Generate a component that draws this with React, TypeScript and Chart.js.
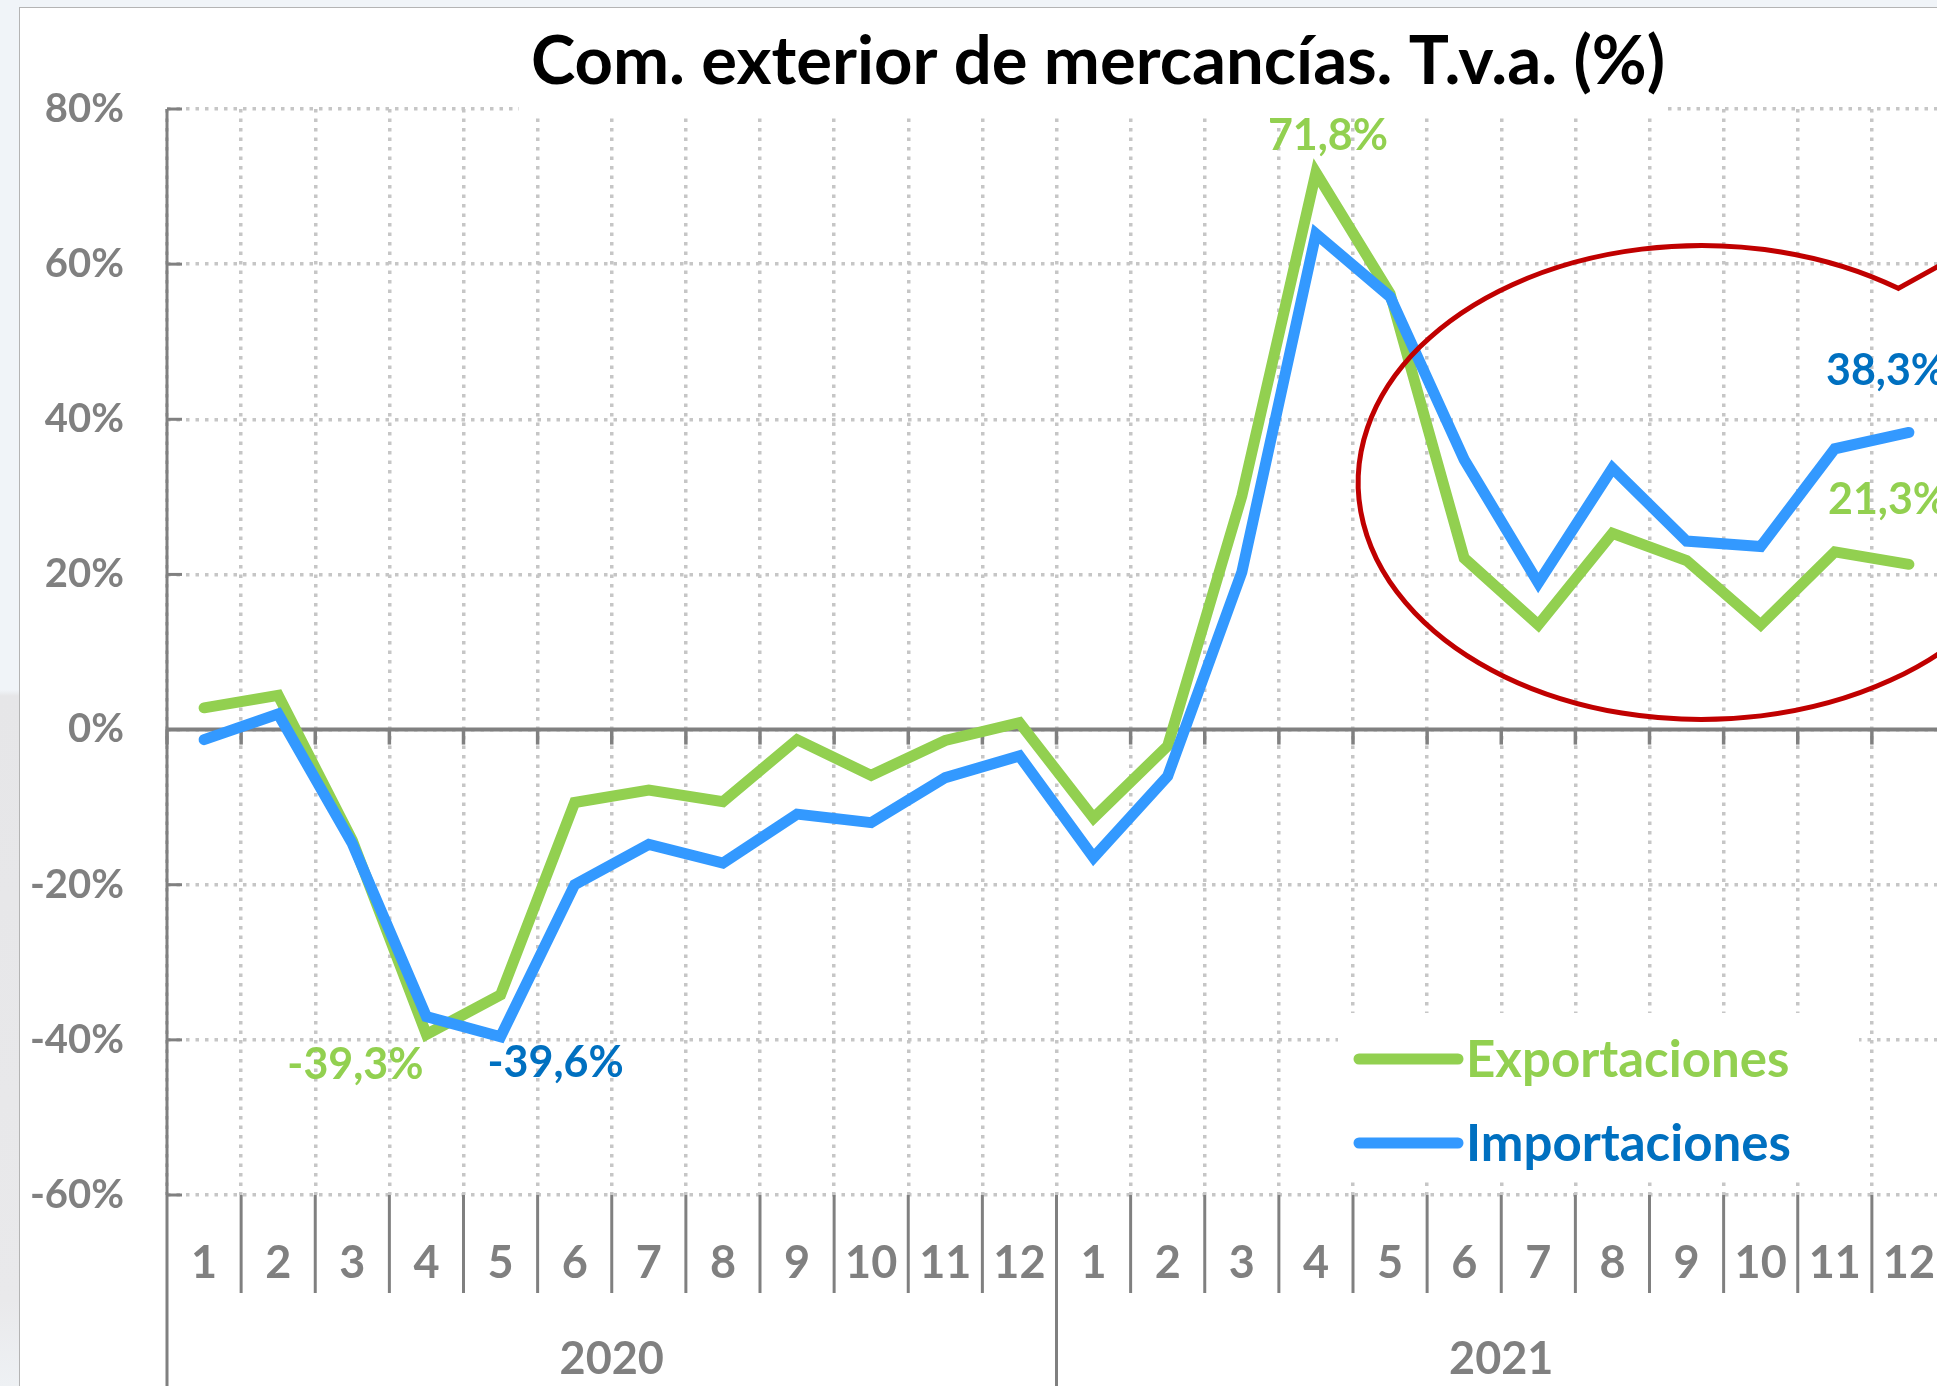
import React, { useEffect, useRef } from 'react';
import { Chart, registerables } from 'chart.js';

Chart.register(...registerables);

// ---------- data ----------
const TITLE = 'Com. exterior de mercancías. T.v.a. (%)';
const YEARS = ['2020', '2021'];
const MONTHS = ['1', '2', '3', '4', '5', '6', '7', '8', '9', '10', '11', '12'];
const CATEGORIES = YEARS.flatMap(() => MONTHS);
const SERIES_NAMES = ['Exportaciones', 'Importaciones'];
const EXPORTACIONES = [2.8, 4.4, -14.3, -39.3, -34.2, -9.4, -7.8, -9.3, -1.3, -5.9, -1.4, 0.9, -11.4, -2.1, 30.1, 71.8, 56.2, 22.1, 13.5, 25.3, 21.8, 13.5, 22.9, 21.3];
const IMPORTACIONES = [-1.3, 2.0, -14.7, -37.0, -39.6, -20.0, -14.8, -17.2, -10.9, -12.0, -6.2, -3.4, -16.5, -6.0, 20.3, 63.9, 55.8, 34.8, 18.9, 33.7, 24.3, 23.6, 36.2, 38.3];
const Y_MIN = -60;
const Y_MAX = 80;
const Y_STEP = 20;
// points carrying a value label: [series index, point index]
const LABELLED_POINTS: [number, number][] = [[0, 3], [1, 4], [0, 15], [1, 23], [0, 23]];
// highlight ellipse, in data units (category index / percent)
const HIGHLIGHT = { index: 20.2, halfWidth: 4.63, value: 31.85, halfHeight: 30.55 };

// ---------- styles ----------
const FONT = 'Lato';
const LINE_COLORS = ['#92d050', '#3399ff'];
const TEXT_COLORS = ['#92d050', '#0070c0'];
const AXIS_GRAY = '#808080';
const GRID_GRAY = '#c6c6c6';
const GRID_DASH = [3.5, 6];
const LINE_WIDTH = 11;
const CANVAS_W = 2156;
const CANVAS_H = 1400;
const LABEL_STYLE = [
  { dx: -71, dy: 31, align: 'center' },
  { dx: 55, dy: 26, align: 'center' },
  { dx: 12, dy: -36, align: 'center' },
  { dx: -83, dy: -61, align: 'left' },
  { dx: -81, dy: -64, align: 'left' },
];
const LEGEND_BOX = { left: 1318, top: 1005, width: 521, height: 168, lineX1: 1339, lineX2: 1438, textX: 1446, firstY: 1051, gap: 84 };
const TITLE_COVER = { left: 499, right: 1648 };

const decorPlugin = {
  id: 'decor',
  beforeDatasetsDraw(chart: any) {
    const { ctx, chartArea: ca } = chart;
    const x = chart.scales.x;
    const y = chart.scales.y;
    const H = chart.height;
    const n = CATEGORIES.length;
    const per = MONTHS.length;
    const line = (x1: number, y1: number, x2: number, y2: number) => {
      ctx.beginPath();
      ctx.moveTo(x1, y1);
      ctx.lineTo(x2, y2);
      ctx.stroke();
    };
    ctx.save();
    // title box hides the top gridline
    ctx.fillStyle = '#ffffff';
    ctx.fillRect(TITLE_COVER.left, ca.top - 5, TITLE_COVER.right - TITLE_COVER.left, 9);

    ctx.strokeStyle = AXIS_GRAY;
    ctx.lineCap = 'butt';
    // zero axis with tick marks
    const y0 = y.getPixelForValue(0);
    ctx.lineWidth = 4;
    line(ca.left, y0, ca.right, y0);
    ctx.lineWidth = 3.5;
    for (let i = 0; i <= n; i++) {
      const bx = x.getPixelForValue(i - 0.5);
      line(bx, y0, bx, y0 + 15);
    }
    // vertical axis, running down through the category labels
    ctx.lineWidth = 3;
    line(ca.left, ca.top, ca.left, H);
    for (let v = Y_MIN; v <= Y_MAX; v += Y_STEP) {
      const py = y.getPixelForValue(v);
      line(ca.left, py, ca.left + 15, py);
    }
    // category separators
    for (let i = 1; i <= n; i++) {
      const bx = x.getPixelForValue(i - 0.5);
      const yearEdge = i % per === 0;
      line(bx, ca.bottom, bx, yearEdge ? H : ca.bottom + 98);
    }
    // year labels
    ctx.fillStyle = AXIS_GRAY;
    ctx.font = `bold 45px ${FONT}`;
    ctx.textAlign = 'center';
    ctx.textBaseline = 'middle';
    YEARS.forEach((yr, k) => {
      const a = x.getPixelForValue(k * per - 0.5);
      const b = x.getPixelForValue(k * per + per - 0.5);
      ctx.fillText(yr, (a + b) / 2, ca.bottom + 164);
    });
    ctx.restore();
  },
  afterDatasetsDraw(chart: any) {
    const { ctx } = chart;
    const x = chart.scales.x;
    const y = chart.scales.y;
    ctx.save();
    // value labels
    LABELLED_POINTS.forEach(([s, idx], k) => {
      const v = chart.data.datasets[s].data[idx] as number;
      const px = x.getPixelForValue(idx);
      const py = y.getPixelForValue(v);
      const st = LABEL_STYLE[k];
      ctx.font = `bold 43px ${FONT}`;
      ctx.fillStyle = TEXT_COLORS[s];
      ctx.textAlign = st.align;
      ctx.textBaseline = 'middle';
      ctx.fillText(v.toFixed(1).replace('.', ',') + '%', px + st.dx, py + st.dy);
    });
    // legend inside the plot
    ctx.fillStyle = '#ffffff';
    ctx.fillRect(LEGEND_BOX.left, LEGEND_BOX.top, LEGEND_BOX.width, LEGEND_BOX.height);
    chart.data.datasets.forEach((ds: any, i: number) => {
      const ly = LEGEND_BOX.firstY + i * LEGEND_BOX.gap;
      ctx.strokeStyle = LINE_COLORS[i];
      ctx.lineWidth = LINE_WIDTH;
      ctx.lineCap = 'round';
      ctx.beginPath();
      ctx.moveTo(LEGEND_BOX.lineX1, ly);
      ctx.lineTo(LEGEND_BOX.lineX2, ly);
      ctx.stroke();
      ctx.fillStyle = TEXT_COLORS[i];
      ctx.font = `bold 51px ${FONT}`;
      ctx.textAlign = 'left';
      ctx.textBaseline = 'middle';
      ctx.fillText(ds.label, LEGEND_BOX.textX, ly + 2);
    });
    // hand-drawn highlight ellipse
    const cx = x.getPixelForValue(HIGHLIGHT.index);
    const rx = x.getPixelForValue(HIGHLIGHT.index + HIGHLIGHT.halfWidth) - cx;
    const cy = y.getPixelForValue(HIGHLIGHT.value);
    const ry = cy - y.getPixelForValue(HIGHLIGHT.value + HIGHLIGHT.halfHeight);
    const kink = -0.96;
    const kx = cx + rx * Math.cos(kink);
    const ky = cy + ry * Math.sin(kink);
    const dirLen = Math.hypot(38, -21);
    ctx.strokeStyle = '#c00000';
    ctx.lineWidth = 5;
    ctx.lineJoin = 'miter';
    ctx.lineCap = 'butt';
    ctx.beginPath();
    ctx.moveTo(kx + (38 / dirLen) * 140, ky + (-21 / dirLen) * 140);
    ctx.lineTo(kx, ky);
    ctx.ellipse(cx, cy, rx, ry, 0, kink, -0.5, true);
    ctx.stroke();
    ctx.restore();
  },
};

export default function App() {
  const ref = useRef<HTMLCanvasElement>(null);
  useEffect(() => {
    Chart.defaults.font.family = FONT;
    const chart = new Chart(ref.current as HTMLCanvasElement, {
      type: 'line',
      data: {
        labels: CATEGORIES,
        datasets: [
          {
            label: SERIES_NAMES[0],
            data: EXPORTACIONES,
            borderColor: LINE_COLORS[0],
            backgroundColor: LINE_COLORS[0],
            borderWidth: LINE_WIDTH,
            pointRadius: 0,
            tension: 0,
            borderCapStyle: 'round',
            borderJoinStyle: 'miter',
            order: 1,
          },
          {
            label: SERIES_NAMES[1],
            data: IMPORTACIONES,
            borderColor: LINE_COLORS[1],
            backgroundColor: LINE_COLORS[1],
            borderWidth: LINE_WIDTH,
            pointRadius: 0,
            tension: 0,
            borderCapStyle: 'round',
            borderJoinStyle: 'miter',
            order: 0,
          },
        ],
      },
      options: {
        responsive: false,
        animation: false,
        devicePixelRatio: 1,
        layout: { padding: 0 },
        plugins: {
          legend: { display: false },
          tooltip: { enabled: false },
          title: {
            display: true,
            text: TITLE,
            color: '#000000',
            font: { family: FONT, size: 67, weight: 'bold', lineHeight: 1.2 },
            padding: { top: 14, bottom: 6.6 },
          },
        },
        scales: {
          x: {
            type: 'category',
            offset: true,
            grid: { offset: true, color: GRID_GRAY, lineWidth: 3.5, drawTicks: false },
            border: { display: false, dash: GRID_DASH },
            ticks: {
              autoSkip: false,
              maxRotation: 0,
              padding: 41,
              color: AXIS_GRAY,
              font: { family: FONT, size: 45, weight: 'bold' },
            },
            afterFit: (s: any) => { s.height = CANVAS_H - 1187; },
          },
          y: {
            min: Y_MIN,
            max: Y_MAX,
            grid: { color: GRID_GRAY, lineWidth: 3.5, drawTicks: false },
            border: { display: false, dash: GRID_DASH },
            ticks: {
              stepSize: Y_STEP,
              padding: 43,
              color: AXIS_GRAY,
              font: { family: FONT, size: 40, weight: 'bold' },
              callback: (v: any) => `${v}%`,
            },
            afterFit: (s: any) => { s.width = 147; },
          },
          yRight: {
            position: 'right',
            min: Y_MIN,
            max: Y_MAX,
            grid: { display: false, drawTicks: false },
            border: { display: false },
            ticks: { display: false },
            afterFit: (s: any) => { s.width = CANVAS_W - 1926; },
          },
        },
      },
      plugins: [decorPlugin],
    } as any);
    return () => chart.destroy();
  }, []);

  return (
    <div
      style={{
        position: 'fixed',
        left: 0,
        top: 0,
        width: '100vw',
        height: '100vh',
        overflow: 'hidden',
        background: 'linear-gradient(to bottom, #f0f4f8 0px, #f0f4f8 690px, #e6e6e8 696px, #e9e9eb 1300px, #eef1f4 1386px)',
      }}
    >
      <div
        style={{
          position: 'absolute',
          left: 19,
          top: 7,
          width: 2200,
          height: 1420,
          background: '#ffffff',
          borderLeft: '1px solid #b4b4b4',
          borderTop: '1px solid #b4b4b4',
        }}
      >
        <canvas ref={ref} width={CANVAS_W} height={CANVAS_H} style={{ display: 'block', width: CANVAS_W, height: CANVAS_H }} />
      </div>
    </div>
  );
}
